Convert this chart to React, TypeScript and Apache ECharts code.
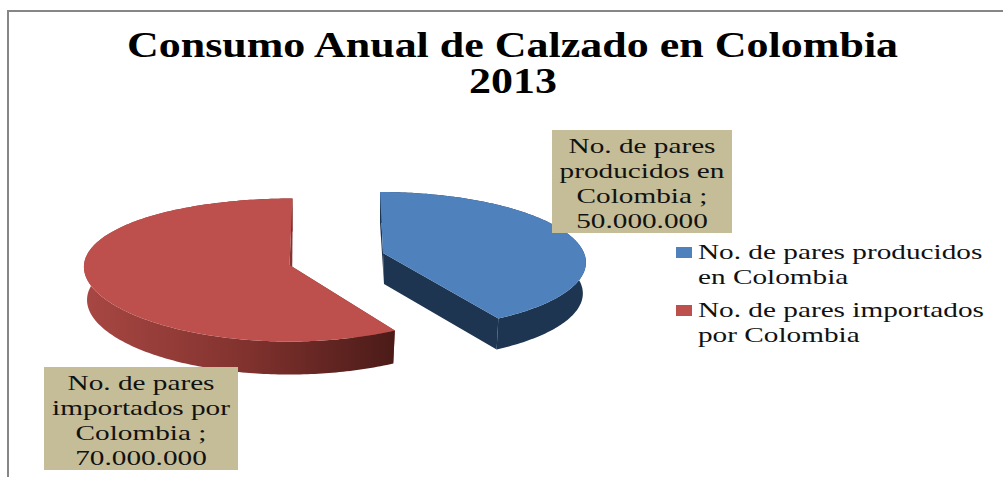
import React, { useEffect, useRef } from "react";
import * as echarts from "echarts";

const titleLines = ["Consumo Anual de Calzado en Colombia", "2013"];
const categories = ["No. de pares producidos en Colombia", "No. de pares importados por Colombia"];
const pairs = [50000000, 70000000];
const labelLines = [
  ["No. de pares", "producidos en", "Colombia ;"],
  ["No. de pares", "importados por", "Colombia ;"],
];
const legendLines = [
  ["No. de pares producidos", "en Colombia"],
  ["No. de pares importados", "por Colombia"],
];

const SERIF = '"Liberation Serif", serif';
const TITLE_STRETCH = 1.257;
const BODY_STRETCH = 1.33;
const topColors = ["#4f81bd", "#bd4f4c"];
const cutColors = ["#1e3551", "#85332f"];

// Exploded slices: apex, ellipse centre and radii, perspective terms and wall depth.
const sliceGeometry = [
  { cx: 383, cy: 253, apexX: 383, ellipseY: 261, rx: 201, ry: 69, drift: 28, persp: 0.00176, depth: 31 },
  { cx: 291, cy: 265, apexX: 289.5, ellipseY: 270, rx: 207, ry: 71.5, drift: -85, persp: 0.00027, depth: 33 },
];
const labelBoxes = [
  { x: 552, y: 130, w: 180, h: 103 },
  { x: 44, y: 367, w: 194, h: 103 },
];
const legendRows = [
  { x: 676, y: 247, lineY: [252, 277] },
  { x: 676, y: 305, lineY: [310, 335] },
];

const formatPairs = (v: number) => String(v).replace(/\B(?=(\d{3})+$)/g, ".");

// Foreshortening moves the slice apex off the ellipse centre, so depth runs through
// a homography that keeps the rim on the ellipse.
function project(g: (typeof sliceGeometry)[number], deg: number, lower: boolean) {
  const a = (deg * Math.PI) / 180;
  const toward = -Math.cos(a);
  const e = (g.cy - g.ellipseY) / g.ry;
  const v = (toward + e) / (1 + e * toward);
  const y = g.ellipseY + g.ry * v;
  const s = 1 + g.persp * (y - g.cy);
  const X = g.rx * Math.sin(a) * (lower ? 0.985 : 1);
  return [g.cx + (g.drift + X) * s - g.drift, y + (lower ? g.depth : 0)];
}

function apex(g: (typeof sliceGeometry)[number], lower: boolean) {
  return [lower ? g.cx + 1 : g.apexX, g.cy + (lower ? g.depth : 0)];
}

function arc(g: (typeof sliceGeometry)[number], from: number, to: number, lower: boolean) {
  const pts: number[][] = [];
  for (let d = from; d <= to; d += 1) pts.push(project(g, d, lower));
  pts.push(project(g, to, lower));
  return pts;
}

const total = pairs.reduce((a, b) => a + b, 0);

function renderSlice(params: any, api: any) {
  const i = params.dataIndex;
  const before = pairs.slice(0, i).reduce((a, b) => a + b, 0);
  const from = (before / total) * 360;
  const to = from + (api.value(0) / total) * 360;
  const g = sliceGeometry[i];
  const upper = arc(g, from, to, false);
  const lower = arc(g, from, to, true);
  const xs = upper.map((p) => p[0]);
  const wallFill =
    i === 0
      ? cutColors[0]
      : new echarts.graphic.LinearGradient(
          Math.min(...xs),
          0,
          Math.max(...xs),
          0,
          [
            { offset: 0, color: "#a84743" },
            { offset: 0.5, color: "#83332f" },
            { offset: 1, color: "#4b1b18" },
          ],
          true,
        );
  const poly = (points: number[][], fill: any) => ({
    type: "polygon",
    shape: { points },
    style: { fill },
    silent: true,
  });
  const children = [
    poly([project(g, from, false), project(g, from, true), apex(g, true), apex(g, false)], cutColors[i]),
    poly([project(g, to, false), project(g, to, true), apex(g, true), apex(g, false)], cutColors[i]),
    poly([...upper, ...lower.slice().reverse()], wallFill),
    poly([apex(g, false), ...upper], topColors[i]),
  ];
  return { type: "group", children };
}

function stretchedText(text: string, x: number, y: number, size: number, opts: any = {}) {
  return {
    type: "text",
    x,
    y,
    scaleX: opts.bold ? TITLE_STRETCH : BODY_STRETCH,
    silent: true,
    style: {
      text,
      fill: opts.bold ? "#000000" : "#111111",
      font: `${opts.bold ? "bold " : ""}${size}px ${SERIF}`,
      textAlign: opts.align ?? "center",
      textVerticalAlign: "middle",
    },
  };
}

export default function App() {
  const ref = useRef<HTMLDivElement>(null);
  useEffect(() => {
    const chart = echarts.init(ref.current!, undefined, { renderer: "svg" });

    const graphics: any[] = [
      {
        type: "polyline",
        silent: true,
        shape: { points: [[8, 477], [8, 11], [1003, 11]] },
        style: { stroke: "#868686", lineWidth: 2, fill: "none" },
      },
      stretchedText(titleLines[0], 512.5, 46, 35, { bold: true }),
      stretchedText(titleLines[1], 513, 82, 35, { bold: true }),
    ];

    labelBoxes.forEach((b, i) => {
      graphics.push({
        type: "rect",
        silent: true,
        z: 5,
        shape: { x: b.x, y: b.y, width: b.w, height: b.h },
        style: { fill: "#c4bd97" },
      });
      [...labelLines[i], formatPairs(pairs[i])].forEach((line, k) => {
        const t: any = stretchedText(line, b.x + b.w / 2, b.y + 15.5 + k * 25, 22);
        t.z = 6;
        graphics.push(t);
      });
    });

    legendRows.forEach((row, i) => {
      graphics.push({
        type: "rect",
        silent: true,
        shape: { x: row.x, y: row.y, width: 16, height: 11 },
        style: { fill: topColors[i] },
      });
      legendLines[i].forEach((line, k) => {
        graphics.push(stretchedText(line, row.x + 22, row.lineY[k], 22, { align: "left" }));
      });
    });

    chart.setOption({
      animation: false,
      backgroundColor: "#ffffff",
      graphic: graphics,
      series: [
        {
          type: "custom",
          name: "Consumo",
          coordinateSystem: "none",
          renderItem: renderSlice,
          silent: true,
          data: pairs.map((v, i) => ({ name: categories[i], value: [v] })),
        },
      ],
    });
    return () => chart.dispose();
  }, []);
  return <div ref={ref} style={{ position: "fixed", left: 0, top: 0, width: 1003, height: 477 }} />;
}
